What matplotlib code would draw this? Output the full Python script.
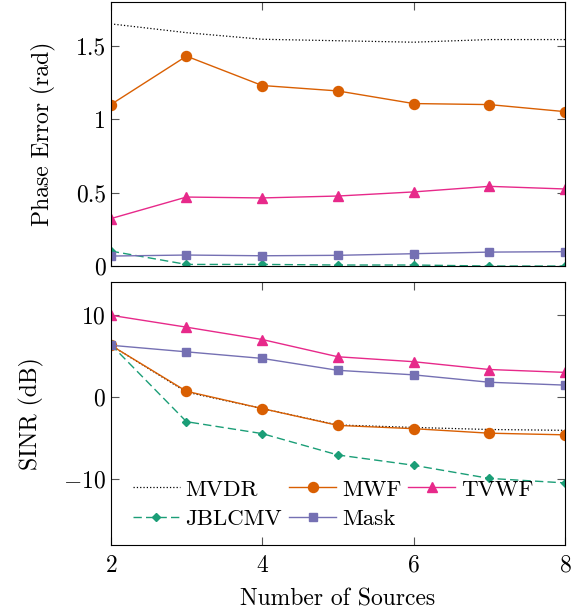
import numpy as np
import matplotlib
matplotlib.use("Agg")
import matplotlib.pyplot as plt

plt.rcParams['font.family'] = 'cmr10'
plt.rcParams['mathtext.fontset'] = 'cm'
plt.rcParams['axes.formatter.use_mathtext'] = True
plt.rcParams['font.size'] = 17

sources = [2, 3, 4, 5, 6, 7, 8]

# phase error (rad)
pe_mvdr = [1.65, 1.59, 1.545, 1.535, 1.525, 1.543, 1.543]
pe_mwf = [1.10, 1.43, 1.23, 1.193, 1.107, 1.10, 1.052]
pe_tvwf = [0.323, 0.470, 0.464, 0.477, 0.505, 0.543, 0.525]
pe_jblcmv = [0.102, 0.011, 0.011, 0.007, 0.007, 0.0, 0.0]
pe_mask = [0.068, 0.075, 0.070, 0.073, 0.084, 0.095, 0.098]

# SINR (dB)
sinr_mvdr = [6.3, 0.6, -1.4, -3.4, -3.7, -3.95, -4.05]
sinr_mwf = [6.3, 0.7, -1.4, -3.45, -3.85, -4.4, -4.6]
sinr_tvwf = [9.95, 8.5, 7.0, 4.9, 4.3, 3.35, 3.0]
sinr_jblcmv = [6.4, -3.0, -4.45, -7.05, -8.3, -9.9, -10.45]
sinr_mask = [6.3, 5.5, 4.7, 3.25, 2.7, 1.8, 1.45]

c_mwf = '#d95f02'
c_tvwf = '#e7298a'
c_jbl = '#1b9e77'
c_mask = '#7570b3'

fig = plt.figure(figsize=(5.8, 6.13), dpi=100)
ax1 = fig.add_axes([0.191, 0.566, 0.783, 0.431])
ax2 = fig.add_axes([0.191, 0.111, 0.783, 0.429])

def draw(ax, mvdr, mwf, tvwf, jbl, mask):
    h = {}
    h['MVDR'], = ax.plot(sources, mvdr, color='black', linestyle=':', linewidth=0.9)
    h['MWF'], = ax.plot(sources, mwf, color=c_mwf, marker='o', markersize=7.2, linewidth=1)
    h['TVWF'], = ax.plot(sources, tvwf, color=c_tvwf, marker='^', markersize=6.5, linewidth=1)
    h['JBLCMV'], = ax.plot(sources, jbl, color=c_jbl, marker='D', markersize=3.8, linewidth=1,
                           linestyle=(0, (6, 3)))
    h['Mask'], = ax.plot(sources, mask, color=c_mask, marker='s', markersize=6, linewidth=1)
    ax.set_xlim(2, 8)
    ax.set_xticks([2, 4, 6, 8])
    ax.tick_params(direction='in', top=True, right=True, length=6, color='#555555')
    ax.tick_params(axis='x', pad=7)
    return h

draw(ax1, pe_mvdr, pe_mwf, pe_tvwf, pe_jblcmv, pe_mask)
ax1.set_ylim(0, 1.8)
ax1.set_yticks([0, 0.5, 1, 1.5])
ax1.set_yticklabels(['0', '0.5', '1', '1.5'])
ax1.tick_params(labelbottom=False)
ax1.set_ylabel('Phase Error (rad)', labelpad=14)

h = draw(ax2, sinr_mvdr, sinr_mwf, sinr_tvwf, sinr_jblcmv, sinr_mask)
ax2.set_ylim(-18, 14)
ax2.set_yticks([-10, 0, 10])
ax2.set_ylabel('SINR (dB)', labelpad=14)
ax2.set_xlabel('Number of Sources', labelpad=8)

order = ['MVDR', 'JBLCMV', 'MWF', 'Mask', 'TVWF']
ax2.legend([h[k] for k in order], order, ncol=3, frameon=False, fontsize=16.5,
           loc='lower left', bbox_to_anchor=(0.048, 0.06),
           handlelength=2.05, columnspacing=0.3, handletextpad=0.26,
           labelspacing=0.42, borderaxespad=0.0, borderpad=0.0)

fig.savefig('out.png', dpi=100)
